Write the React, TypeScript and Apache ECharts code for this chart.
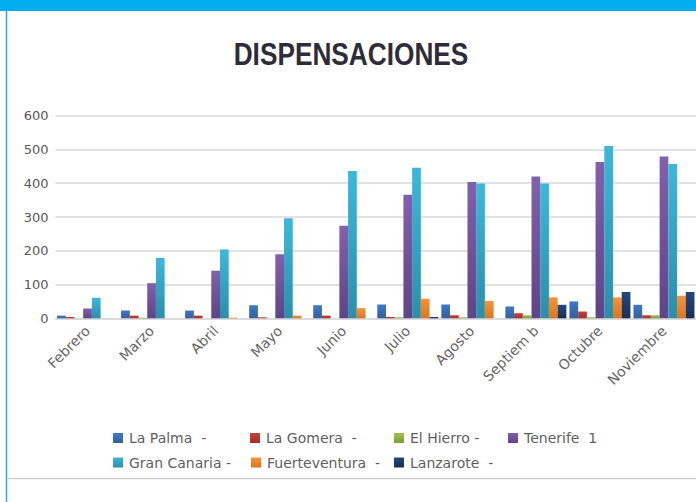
import React, { useEffect, useRef } from "react";
import * as echarts from "echarts";

const categories = ["Febrero", "Marzo", "Abril", "Mayo", "Junio", "Julio", "Agosto", "Septiem b", "Octubre", "Noviembre"];
const seriesNames = ["La Palma", "La Gomera", "El Hierro", "Tenerife", "Gran Canaria", "Fuerteventura", "Lanzarote"];
const legendLabels = ["La Palma\u00A0\u00A0-", "La Gomera\u00A0\u00A0-", "El Hierro\u00A0-", "Tenerife\u00A0\u00A01", "Gran Canaria\u00A0-", "Fuerteventura\u00A0\u00A0-", "Lanzarote\u00A0\u00A0-"];
const laPalma = [8, 23, 23, 39, 39, 41, 41, 35, 50, 40];
const laGomera = [4, 8, 8, 3, 8, 4, 9, 15, 20, 9];
const elHierro = [0, 2, 0, 0, 0, 3, 3, 9, 3, 9];
const tenerife = [29, 104, 141, 190, 274, 366, 404, 420, 463, 479];
const granCanaria = [61, 179, 204, 296, 436, 446, 399, 399, 510, 457];
const fuerteventura = [0, 0, 2, 8, 30, 58, 51, 62, 62, 67];
const lanzarote = [0, 0, 0, 0, 0, 4, 0, 40, 78, 78];
const yTicks = [0, 100, 200, 300, 400, 500, 600];
const title = "DISPENSACIONES";

const seriesData = [laPalma, laGomera, elHierro, tenerife, granCanaria, fuerteventura, lanzarote];
const colorsTop = ["#4178c6", "#c9403b", "#9cc24f", "#8360ad", "#3db8da", "#f8923a", "#24497f"];
const colorsBottom = ["#33609f", "#a52e2b", "#7b9d37", "#5f4487", "#2a8fab", "#d9761f", "#182f55"];
const legendPos = [
  [113, 431], [250, 431], [394, 431], [508, 431],
  [113, 455.5], [251, 455.5], [394, 455.5],
];

export default function App() {
  const ref = useRef<HTMLDivElement>(null);
  useEffect(() => {
    if (!ref.current) return;
    const chart = echarts.init(ref.current, null, { renderer: "svg" });
    const font = "DejaVu Sans";
    const option: any = {
      animation: false,
      backgroundColor: "#ffffff",
      grid: { left: 55.5, right: -0.5, top: 115.7, bottom: 183.7, containLabel: false },
      xAxis: {
        type: "category",
        data: categories,
        axisLine: { show: true, lineStyle: { color: "#d9d9d9", width: 1.5 } },
        axisTick: { show: false },
        axisLabel: {
          interval: 0,
          rotate: 45,
          margin: 10,
          color: "#666666",
          fontSize: 14,
          fontFamily: font,
        },
      },
      yAxis: {
        type: "value",
        min: yTicks[0],
        max: yTicks[yTicks.length - 1],
        interval: 100,
        axisLine: { show: false },
        axisTick: { show: false },
        splitLine: { lineStyle: { color: "#d9d9d9", width: 1.5 } },
        axisLabel: { color: "#595959", fontSize: 13, fontFamily: font, margin: 7 },
      },
      legend: seriesNames.map((n, i) => ({
        data: [n],
        left: legendPos[i][0],
        top: legendPos[i][1],
        icon: "rect",
        itemWidth: 10,
        itemHeight: 10,
        padding: 0,
        selectedMode: false,
        formatter: () => legendLabels[i],
        textStyle: { color: "#5f5f5f", fontSize: 14, fontFamily: font, padding: [0, 0, 0, 1] },
      })),
      series: seriesNames.map((n, i) => ({
        name: n,
        type: "bar",
        data: seriesData[i],
        barGap: "0%",
        barCategoryGap: "4.8%",
        itemStyle: {
          color: new echarts.graphic.LinearGradient(0, 0, 0, 1, [
            { offset: 0, color: colorsTop[i] },
            { offset: 1, color: colorsBottom[i] },
          ]),
        },
      })),
      graphic: [
        { type: "rect", shape: { x: 0, y: 0, width: 696, height: 11 }, style: { fill: "#00AEEF" }, silent: true },
        { type: "line", shape: { x1: 6.5, y1: 11, x2: 6.5, y2: 502 }, style: { stroke: "#29ABE2", lineWidth: 1.5 }, silent: true },
        { type: "line", shape: { x1: 8, y1: 478.5, x2: 696, y2: 478.5 }, style: { stroke: "#cfcfcf", lineWidth: 1.5 }, silent: true },
        {
          type: "text",
          x: 351,
          y: 54.5,
          scaleX: 0.82,
          style: {
            text: title,
            fill: "#2F2C3A",
            font: 'bold 32px "Liberation Sans", Arial, sans-serif',
            textAlign: "center",
            textVerticalAlign: "middle",
            verticalAlign: "middle",
          },
          silent: true,
        },
      ],
    };
    chart.setOption(option);
    return () => chart.dispose();
  }, []);
  return <div ref={ref} style={{ position: "absolute", left: 0, top: 0, width: 696, height: 502 }} />;
}
